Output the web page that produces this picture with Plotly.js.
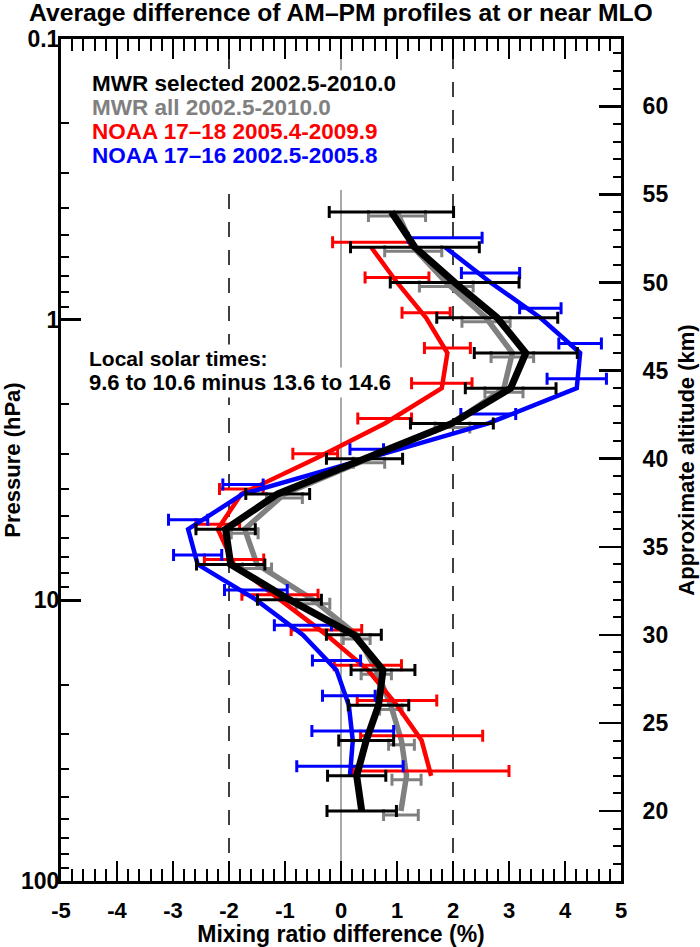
<!DOCTYPE html>
<html>
<head>
<meta charset="utf-8">
<script src="https://cdn.plot.ly/plotly-3.0.1.min.js"></script>
<style>html,body{margin:0;padding:0;background:#fff;}#chart{width:700px;height:947px;}</style>
</head>
<body>
<div id="chart"></div>
<script>
// Altitude levels (km)
const altMWR  = [54, 52, 50, 48, 46, 44, 42, 40, 38, 36, 34, 32, 30, 28, 26, 24, 22, 20];
const altNOAA = [52, 50, 48, 46, 44, 42, 40, 38, 36, 34, 32, 30, 28, 26, 24, 22];

// MWR selected 2002.5-2010.0 (black)
const mwrSelX   = [0.90, 1.32, 2.03, 2.79, 3.30, 3.03, 1.98, 0.42, -1.13, -2.06, -1.97, -0.92, 0.23, 0.75, 0.67, 0.45, 0.28, 0.37];
const mwrSelErr = [1.11, 1.15, 1.15, 1.08, 0.92, 0.81, 0.74, 0.68, 0.57, 0.53, 0.61, 0.57, 0.49, 0.57, 0.54, 0.49, 0.52, 0.62];

// MWR all 2002.5-2010.0 (gray)
const mwrAllX   = [1.00, 1.29, 1.88, 2.59, 3.06, 2.91, 1.99, 0.50, -1.01, -1.72, -1.50, -0.50, 0.28, 0.63, 0.89, 1.08, 1.17, 1.07];
const mwrAllErr = [0.51, 0.51, 0.48, 0.43, 0.38, 0.34, 0.31, 0.28, 0.32, 0.24, 0.26, 0.30, 0.24, 0.27, 0.20, 0.23, 0.26, 0.31];

// NOAA 17-18 2005.4-2009.9 (red)
const noaa1718X   = [0.54, 1.00, 1.52, 1.90, 1.80, 0.78, -0.46, -1.78, -2.20, -1.91, -1.09, -0.26, 0.48, 1.00, 1.44, 1.61];
const noaa1718Err = [0.69, 0.57, 0.43, 0.41, 0.54, 0.48, 0.40, 0.39, 0.39, 0.53, 0.68, 0.63, 0.60, 0.71, 1.09, 1.39];

// NOAA 17-16 2002.5-2005.8 (blue)
const noaa1716X   = [1.86, 2.67, 3.56, 4.27, 4.21, 2.63, 0.46, -1.75, -2.73, -2.56, -1.52, -0.68, -0.08, 0.14, 0.21, 0.16];
const noaa1716Err = [0.66, 0.52, 0.37, 0.38, 0.53, 0.49, 0.30, 0.36, 0.35, 0.43, 0.56, 0.51, 0.43, 0.47, 0.73, 0.95];

const xTicks = [-5, -4, -3, -2, -1, 0, 1, 2, 3, 4, 5];
const pTicks = [0.1, 1, 10, 100];
const pTickText = ['0.1', '1', '10', '100'];
const altTicks = [20, 25, 30, 35, 40, 45, 50, 55, 60];

const legendLines = [
  {text: 'MWR selected 2002.5-2010.0', color: '#000000'},
  {text: 'MWR all 2002.5-2010.0',      color: '#808080'},
  {text: 'NOAA 17\u201318 2005.4-2009.9', color: '#ff0000'},
  {text: 'NOAA 17\u201316 2002.5-2005.8', color: '#0000ff'}
];

// ---- styling ----
const FONT = 'Liberation Sans, Arial, Helvetica, sans-serif';
const BAR_SHIFT = {gray: -0.23, red: 0.28, blue: 0.54, black: 0};

function lineTrace(x, y, color, width) {
  return {x: x, y: y, yaxis: 'y2', type: 'scatter', mode: 'lines',
          line: {color: color, width: width}, hoverinfo: 'skip', showlegend: false};
}
function barTrace(x, y, err, color, shift) {
  return {x: x, y: y.map(v => v + shift), yaxis: 'y2', type: 'scatter', mode: 'markers',
          marker: {size: 1, color: 'rgba(0,0,0,0)'},
          error_x: {type: 'data', array: err, symmetric: true, color: color, thickness: 3, width: 6},
          hoverinfo: 'skip', showlegend: false};
}

const traces = [
  {x: [0], y: [1], yaxis: 'y', type: 'scatter', mode: 'markers', marker: {size: 1, color: 'rgba(0,0,0,0)'}, hoverinfo: 'skip', showlegend: false},
  lineTrace(mwrAllX, altMWR, '#808080', 5.5),
  barTrace(mwrAllX, altMWR, mwrAllErr, '#808080', BAR_SHIFT.gray),
  lineTrace(noaa1718X, altNOAA, '#ff0000', 4.5),
  barTrace(noaa1718X, altNOAA, noaa1718Err, '#ff0000', BAR_SHIFT.red),
  lineTrace(noaa1716X, altNOAA, '#0000ff', 4.5),
  barTrace(noaa1716X, altNOAA, noaa1716Err, '#0000ff', BAR_SHIFT.blue),
  barTrace(mwrSelX, altMWR, mwrSelErr, '#000000', BAR_SHIFT.black),
  lineTrace(mwrSelX, altMWR, '#000000', 7)
];

const annotations = legendLines.map((l, i) => ({
  xref: 'paper', yref: 'paper', x: 0.051, y: 0.9466 - i * 0.0283,
  xanchor: 'left', yanchor: 'middle', showarrow: false,
  text: l.text, font: {family: FONT, size: 22.5, color: l.color, weight: 'bold'}
}));
annotations.push(
  {xref: 'paper', yref: 'paper', x: 0.045, y: 0.621, xanchor: 'left', yanchor: 'middle', showarrow: false,
   bgcolor: '#ffffff', borderpad: 2,
   text: 'Local solar times:', font: {family: FONT, size: 21, color: '#000', weight: 'bold'}},
  {xref: 'paper', yref: 'paper', x: 0.045, y: 0.5925, xanchor: 'left', yanchor: 'middle', showarrow: false,
   bgcolor: '#ffffff', borderpad: 2,
   text: '9.6 to 10.6 minus 13.6 to 14.6', font: {family: FONT, size: 22, color: '#000', weight: 'bold'}}
);

const layout = {
  width: 700, height: 947,
  margin: {l: 61, r: 79, t: 39, b: 66},
  paper_bgcolor: '#ffffff', plot_bgcolor: '#ffffff',
  showlegend: false,
  title: {text: 'Average difference of AM\u2013PM profiles at or near MLO',
          font: {family: FONT, size: 24.7, color: '#000', weight: 'bold'},
          xref: 'container', x: 0.487, xanchor: 'center', yref: 'container', y: 0.987, yanchor: 'middle'},
  xaxis: {
    range: [-5, 5], tickvals: xTicks, ticktext: xTicks.map(String),
    ticks: 'inside', ticklen: 20, tickwidth: 2.5, tickcolor: '#000',
    minor: {dtick: 0.2, ticks: 'inside', ticklen: 12, tickwidth: 2, tickcolor: '#000'},
    showline: true, linewidth: 3, linecolor: '#000', mirror: 'ticks',
    showgrid: false, zeroline: false,
    tickfont: {family: FONT, size: 22, color: '#000', weight: 'bold'},
    ticklabelstandoff: 8,
    title: {text: 'Mixing ratio difference (%)', font: {family: FONT, size: 23, color: '#000', weight: 'bold'}, standoff: 4}
  },
  yaxis: {
    type: 'log', range: [2, -1], tickvals: pTicks, ticktext: pTickText,
    ticks: 'inside', ticklen: 20, tickwidth: 2.5, tickcolor: '#000',
    minor: {dtick: 'D1', ticks: 'inside', ticklen: 8, tickwidth: 2, tickcolor: '#000'},
    showline: true, linewidth: 3, linecolor: '#000', mirror: false,
    showgrid: false, zeroline: false,
    tickfont: {family: FONT, size: 23, color: '#000', weight: 'bold'},
    ticklabelstandoff: -6,
    title: {text: 'Pressure (hPa)', font: {family: FONT, size: 22, color: '#000', weight: 'bold'}, standoff: 14}
  },
  yaxis2: {
    overlaying: 'y', side: 'right', anchor: 'x',
    range: [16.03, 63.82], tickvals: altTicks, ticktext: altTicks.map(String),
    ticks: 'inside', ticklen: 22, tickwidth: 2.5, tickcolor: '#000',
    minor: {dtick: 1, ticks: 'inside', ticklen: 8, tickwidth: 2, tickcolor: '#000'},
    showline: true, linewidth: 3, linecolor: '#000',
    showgrid: false, zeroline: false,
    tickfont: {family: FONT, size: 23, color: '#000', weight: 'bold'},
    ticklabelstandoff: 14,
    title: {text: 'Approximate altitude (km)', font: {family: FONT, size: 22, color: '#000', weight: 'bold'}, standoff: 12}
  },
  shapes: [
    {type: 'line', xref: 'x', yref: 'paper', x0: 0, x1: 0, y0: 0, y1: 1, line: {color: '#555555', width: 1}, layer: 'below'},
    {type: 'line', xref: 'x', yref: 'paper', x0: -2, x1: -2, y0: 0, y1: 1, line: {color: '#000', width: 1.5, dash: '15px,13px'}, layer: 'below'},
    {type: 'line', xref: 'x', yref: 'paper', x0: 2, x1: 2, y0: 0, y1: 1, line: {color: '#000', width: 1.5, dash: '15px,13px'}, layer: 'below'},
    {type: 'rect', xref: 'x', yref: 'paper', x0: -4.59, x1: 0.85, y0: 0.8207, y1: 0.963, fillcolor: '#ffffff', line: {width: 0}, layer: 'below'}
  ],
  annotations: annotations
};

Plotly.newPlot('chart', traces, layout, {displayModeBar: false, staticPlot: true});
</script>
</body>
</html>
